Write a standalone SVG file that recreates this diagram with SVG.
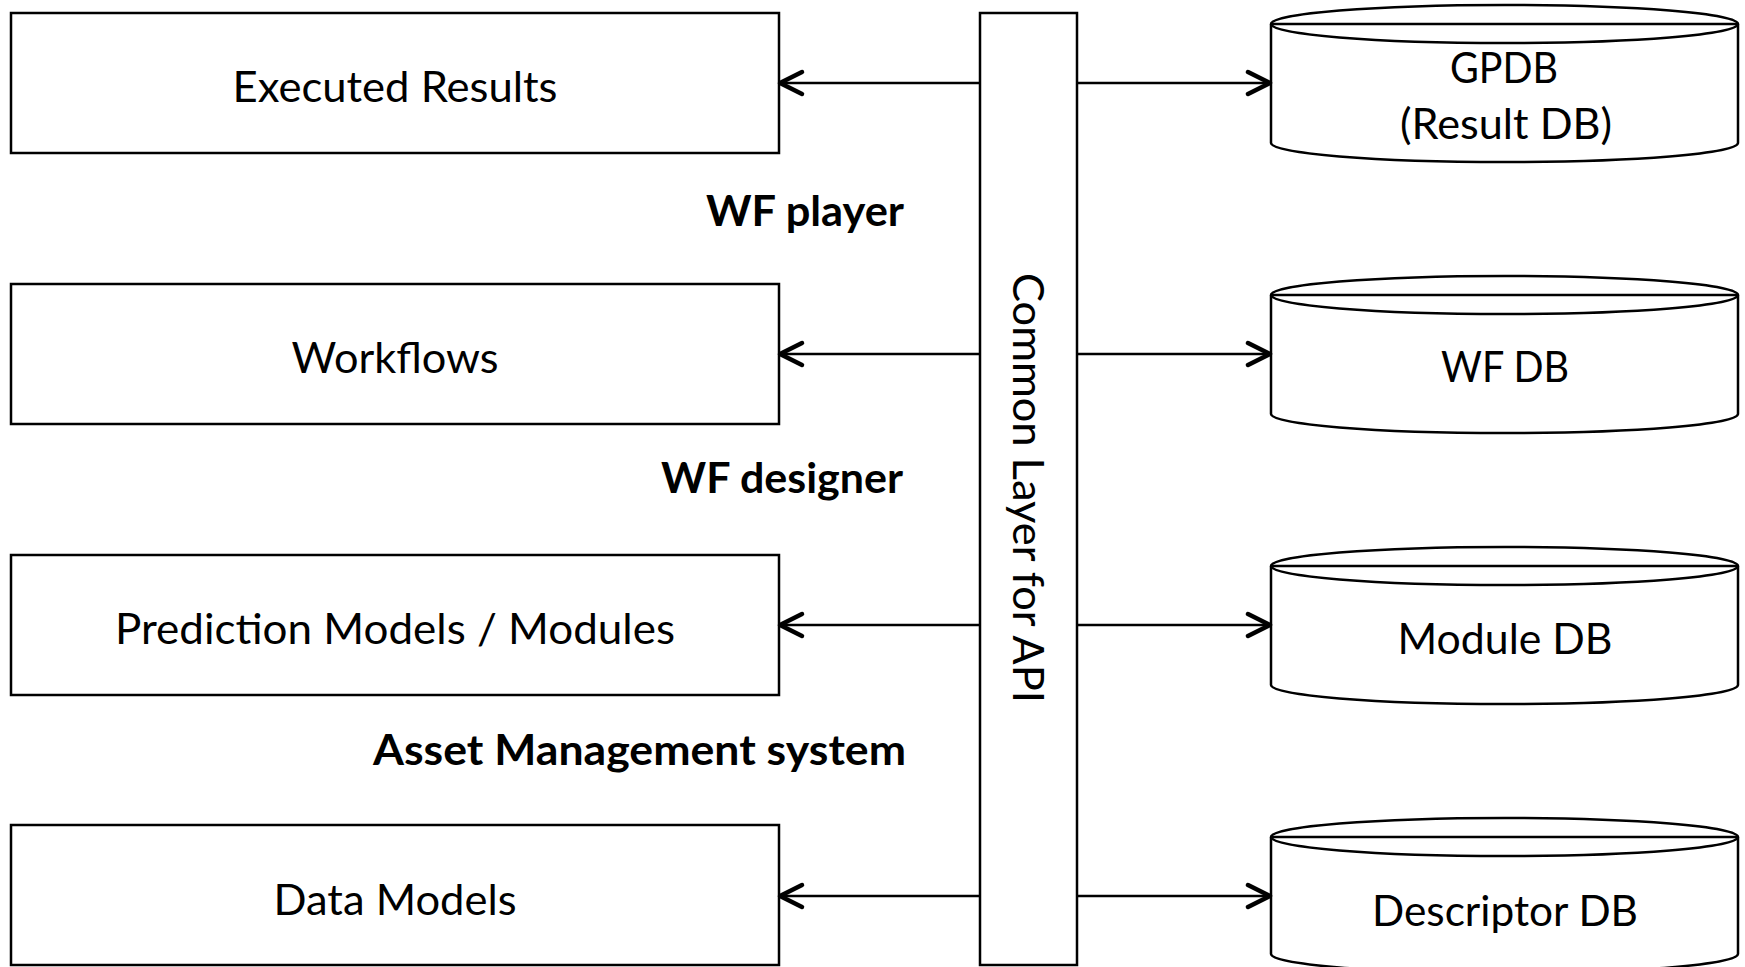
<svg xmlns="http://www.w3.org/2000/svg" width="1745" height="967" viewBox="0 0 1745 967">
  <defs>
    <style>
      .box { fill: #ffffff; stroke: #000000; stroke-width: 2.5; }
      .db { fill: #ffffff; stroke: #000000; stroke-width: 2.5; stroke-linejoin: round; }
      .rim { fill: none; stroke: #000000; stroke-width: 2.5; }
      .link { fill: none; stroke: #000000; stroke-width: 2.5; }
      .lbl { font-family: "Lato", "Open Sans", "Liberation Sans", sans-serif; font-size: 42px; fill: #000000; }
      .ttl { font-family: "Lato", "Open Sans", "Liberation Sans", sans-serif; font-size: 42px; font-weight: bold; fill: #000000; }
    </style>
    <marker id="chevron" viewBox="-26 -15 30 30" refX="0" refY="0" markerWidth="30" markerHeight="30" markerUnits="userSpaceOnUse" orient="auto">
      <path d="M-22,-11 L0,0 L-22,11" fill="none" stroke="#000000" stroke-width="4.5" stroke-linecap="round" stroke-linejoin="round"/>
    </marker>
  </defs>

  <rect width="1745" height="967" fill="#ffffff"/>

  <!-- client-side stores -->
  <g id="executed-results">
    <rect class="box" x="11" y="13" width="768" height="140"/>
    <text class="lbl" x="395" y="102" text-anchor="middle" textLength="325" lengthAdjust="spacingAndGlyphs">Executed Results</text>
  </g>
  <g id="workflows">
    <rect class="box" x="11" y="284" width="768" height="140"/>
    <text class="lbl" x="395" y="373" text-anchor="middle" textLength="207" lengthAdjust="spacingAndGlyphs">Workflows</text>
  </g>
  <g id="prediction-models">
    <rect class="box" x="11" y="555" width="768" height="140"/>
    <text class="lbl" x="395" y="644" text-anchor="middle" textLength="560" lengthAdjust="spacingAndGlyphs">Prediction Models / Modules</text>
  </g>
  <g id="data-models">
    <rect class="box" x="11" y="825" width="768" height="140"/>
    <text class="lbl" x="395" y="915" text-anchor="middle" textLength="243" lengthAdjust="spacingAndGlyphs">Data Models</text>
  </g>

  <!-- section captions -->
  <g id="wf-player">
    <text class="ttl" x="706" y="226" textLength="198" lengthAdjust="spacingAndGlyphs">WF player</text>
  </g>
  <g id="wf-designer">
    <text class="ttl" x="661" y="493" textLength="242" lengthAdjust="spacingAndGlyphs">WF designer</text>
  </g>
  <g id="asset-management">
    <text class="ttl" x="373" y="765" textLength="533" lengthAdjust="spacingAndGlyphs">Asset Management system</text>
  </g>

  <!-- shared API layer -->
  <g id="common-layer">
    <rect class="box" x="980" y="13" width="97" height="952"/>
    <text class="lbl" transform="translate(1013,488) rotate(90)" x="0" y="0" text-anchor="middle" textLength="430" lengthAdjust="spacingAndGlyphs">Common Layer for API</text>
  </g>

  <!-- databases -->
  <g id="gpdb">
    <path class="db" d="M1271,24 A233.5,19 0 0 1 1738,24 L1738,143 A233.5,19 0 0 1 1271,143 Z"/>
    <path class="rim" d="M1271,24 A233.5,19 0 0 0 1738,24 M1271,24 L1738,24"/>
    <text class="lbl" x="1504" y="83" text-anchor="middle" textLength="108" lengthAdjust="spacingAndGlyphs">GPDB</text>
    <text class="lbl" x="1506" y="139" text-anchor="middle" textLength="212" lengthAdjust="spacingAndGlyphs">(Result DB)</text>
  </g>
  <g id="wf-db">
    <path class="db" d="M1271,295 A233.5,19 0 0 1 1738,295 L1738,414 A233.5,19 0 0 1 1271,414 Z"/>
    <path class="rim" d="M1271,295 A233.5,19 0 0 0 1738,295 M1271,295 L1738,295"/>
    <text class="lbl" x="1505" y="382" text-anchor="middle" textLength="128" lengthAdjust="spacingAndGlyphs">WF DB</text>
  </g>
  <g id="module-db">
    <path class="db" d="M1271,566 A233.5,19 0 0 1 1738,566 L1738,685 A233.5,19 0 0 1 1271,685 Z"/>
    <path class="rim" d="M1271,566 A233.5,19 0 0 0 1738,566 M1271,566 L1738,566"/>
    <text class="lbl" x="1505" y="654" text-anchor="middle" textLength="215" lengthAdjust="spacingAndGlyphs">Module DB</text>
  </g>
  <g id="descriptor-db">
    <path class="db" d="M1271,837 A233.5,19 0 0 1 1738,837 L1738,954 A233.5,19 0 0 1 1271,954 Z"/>
    <path class="rim" d="M1271,837 A233.5,19 0 0 0 1738,837 M1271,837 L1738,837"/>
    <text class="lbl" x="1505" y="926" text-anchor="middle" textLength="266" lengthAdjust="spacingAndGlyphs">Descriptor DB</text>
  </g>

  <!-- connectors from the API layer -->
  <g id="connectors">
    <line class="link" x1="980" y1="83" x2="780" y2="83" marker-end="url(#chevron)"/>
    <line class="link" x1="1077" y1="83" x2="1270" y2="83" marker-end="url(#chevron)"/>
    <line class="link" x1="980" y1="354" x2="780" y2="354" marker-end="url(#chevron)"/>
    <line class="link" x1="1077" y1="354" x2="1270" y2="354" marker-end="url(#chevron)"/>
    <line class="link" x1="980" y1="625" x2="780" y2="625" marker-end="url(#chevron)"/>
    <line class="link" x1="1077" y1="625" x2="1270" y2="625" marker-end="url(#chevron)"/>
    <line class="link" x1="980" y1="896" x2="780" y2="896" marker-end="url(#chevron)"/>
    <line class="link" x1="1077" y1="896" x2="1270" y2="896" marker-end="url(#chevron)"/>
  </g>
</svg>
